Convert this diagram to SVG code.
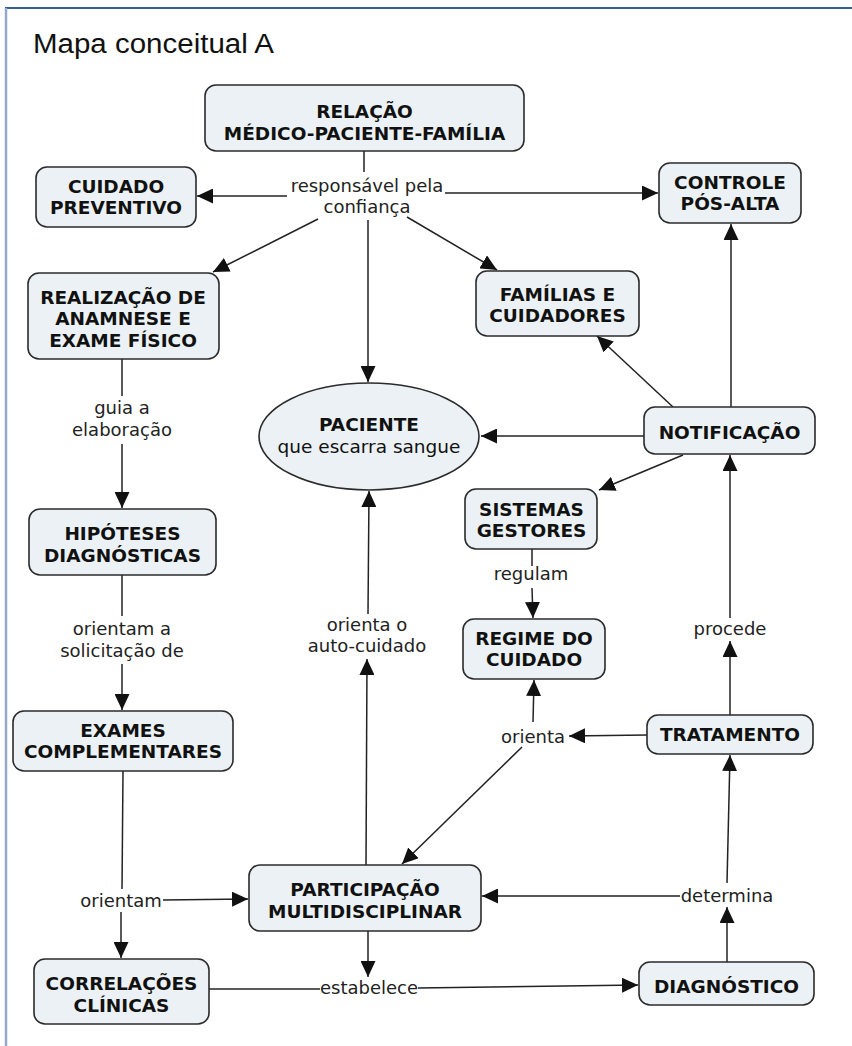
<svg xmlns="http://www.w3.org/2000/svg" width="852" height="1046" viewBox="0 0 852 1046">
<style>
.n rect, .n ellipse { fill:#ebf1f4; stroke:#2b2b2b; stroke-width:1.6; }
.n text { font-family:"DejaVu Sans", Verdana, sans-serif; font-weight:bold; font-size:18.5px; fill:#111; text-anchor:middle; }
.n text.sub { font-weight:normal; }
.lbl { font-family:"DejaVu Sans", Verdana, sans-serif; font-size:18px; fill:#222; text-anchor:middle; }
#connectors path { fill:none; stroke:#222; stroke-width:1.5; }
#connectors path.a { marker-end:url(#ah); }
.title { font-family:"Liberation Sans", Arial, sans-serif; font-size:27px; fill:#111; }
</style>
<defs>
<marker id="ah" markerUnits="userSpaceOnUse" markerWidth="16" markerHeight="15" refX="16" refY="7.5" orient="auto"><path d="M0,0 L16,7.5 L0,15 z" fill="#111"/></marker>
</defs>
<rect x="0" y="0" width="852" height="1046" fill="#fff"/>
<line x1="5" y1="8" x2="852" y2="8" stroke="#365f91" stroke-width="2"/>
<line x1="6" y1="8" x2="6" y2="1046" stroke="#95a9cc" stroke-width="2.5"/>
<text class="title" x="33" y="53" textLength="241" lengthAdjust="spacingAndGlyphs">Mapa conceitual A</text>

<g id="connectors">
<path d="M364,151 L364,172"/>
<path class="a" d="M287,196 L197,196"/>
<path class="a" d="M445,193 L658,193"/>
<path class="a" d="M318,219 L213,272"/>
<path class="a" d="M368,220 L368,382"/>
<path class="a" d="M407,217 L497,270"/>
<path class="a" d="M673,407 L597,336"/>
<path class="a" d="M731,407 L731,224"/>
<path class="a" d="M644,436 L481,436"/>
<path class="a" d="M683,455 L599,490"/>
<path d="M532,549 L532,566"/>
<path class="a" d="M532,588 L533,618"/>
<path class="a" d="M730,715 L730,641"/>
<path class="a" d="M730,618 L730,455"/>
<path d="M122,359 L122,396"/>
<path class="a" d="M122,444 L122,508"/>
<path d="M122,575 L122,616"/>
<path class="a" d="M122,664 L122,710"/>
<path d="M123,771 L122,889"/>
<path class="a" d="M121,912 L121,958"/>
<path class="a" d="M163,900 L248,899"/>
<path class="a" d="M366,865 L367,659"/>
<path class="a" d="M368,614 L369,491"/>
<path class="a" d="M368,931 L368,977"/>
<path d="M209,989 L320,989"/>
<path class="a" d="M418,988 L638,985"/>
<path class="a" d="M727,962 L727,907"/>
<path class="a" d="M727,883 L730,755"/>
<path class="a" d="M680,896 L482,896"/>
<path class="a" d="M647,735 L569,736"/>
<path class="a" d="M533,722 L534,680"/>
<path class="a" d="M522,747 L402,864"/>
</g>

<g id="labels">
<text class="lbl" x="367" y="192">responsável pela</text>
<text class="lbl" x="367" y="213">confiança</text>
<text class="lbl" x="122" y="414">guia a</text>
<text class="lbl" x="122" y="436">elaboração</text>
<text class="lbl" x="122" y="635">orientam a</text>
<text class="lbl" x="122" y="657">solicitação de</text>
<text class="lbl" x="121" y="907">orientam</text>
<text class="lbl" x="367" y="631">orienta o</text>
<text class="lbl" x="367" y="652">auto-cuidado</text>
<text class="lbl" x="369" y="994">estabelece</text>
<text class="lbl" x="727" y="902">determina</text>
<text class="lbl" x="533" y="743">orienta</text>
<text class="lbl" x="730" y="635">procede</text>
<text class="lbl" x="531" y="580">regulam</text>
</g>

<g id="n-relacao" class="n"><rect x="205" y="85" width="319" height="66" rx="11"/><text x="364.5" y="117.5">RELAÇÃO</text><text x="364.5" y="139.5">MÉDICO-PACIENTE-FAMÍLIA</text></g>
<g id="n-cuidado" class="n"><rect x="36" y="167" width="160" height="60" rx="11"/><text x="116" y="193">CUIDADO</text><text x="116" y="214">PREVENTIVO</text></g>
<g id="n-controle" class="n"><rect x="659" y="163" width="142" height="60" rx="11"/><text x="730" y="189">CONTROLE</text><text x="730" y="210">PÓS-ALTA</text></g>
<g id="n-realizacao" class="n"><rect x="28" y="273" width="191" height="86" rx="11"/><text x="123" y="304">REALIZAÇÃO DE</text><text x="123" y="325">ANAMNESE E</text><text x="123" y="346.5">EXAME FÍSICO</text></g>
<g id="n-familias" class="n"><rect x="476" y="271" width="163" height="65" rx="11"/><text x="557.5" y="300.5">FAMÍLIAS E</text><text x="557.5" y="321.5">CUIDADORES</text></g>
<g id="n-paciente" class="n"><ellipse cx="369" cy="436.5" rx="110" ry="53.5"/><text x="369" y="431">PACIENTE</text><text class="sub" x="369" y="452.5">que escarra sangue</text></g>
<g id="n-notificacao" class="n"><rect x="644" y="407" width="171" height="47" rx="11"/><text x="729.5" y="438.5">NOTIFICAÇÃO</text></g>
<g id="n-sistemas" class="n"><rect x="465" y="489" width="132" height="60" rx="11"/><text x="531.5" y="515.5">SISTEMAS</text><text x="531.5" y="536.5">GESTORES</text></g>
<g id="n-regime" class="n"><rect x="463" y="619" width="142" height="60" rx="11"/><text x="534" y="644.5">REGIME DO</text><text x="534" y="666">CUIDADO</text></g>
<g id="n-hipoteses" class="n"><rect x="29" y="509" width="187" height="66" rx="11"/><text x="122.5" y="539.5">HIPÓTESES</text><text x="122.5" y="562">DIAGNÓSTICAS</text></g>
<g id="n-exames" class="n"><rect x="13" y="711" width="220" height="60" rx="11"/><text x="123" y="736.5">EXAMES</text><text x="123" y="758">COMPLEMENTARES</text></g>
<g id="n-tratamento" class="n"><rect x="647" y="715" width="166" height="39" rx="11"/><text x="730" y="740.5">TRATAMENTO</text></g>
<g id="n-participacao" class="n"><rect x="249" y="865" width="232" height="66" rx="11"/><text x="365" y="896">PARTICIPAÇÃO</text><text x="365" y="918">MULTIDISCIPLINAR</text></g>
<g id="n-correlacoes" class="n"><rect x="34" y="959" width="175" height="65" rx="11"/><text x="121.5" y="990">CORRELAÇÕES</text><text x="121.5" y="1011.5">CLÍNICAS</text></g>
<g id="n-diagnostico" class="n"><rect x="639" y="962" width="175" height="43" rx="11"/><text x="726.5" y="993">DIAGNÓSTICO</text></g>
</svg>
